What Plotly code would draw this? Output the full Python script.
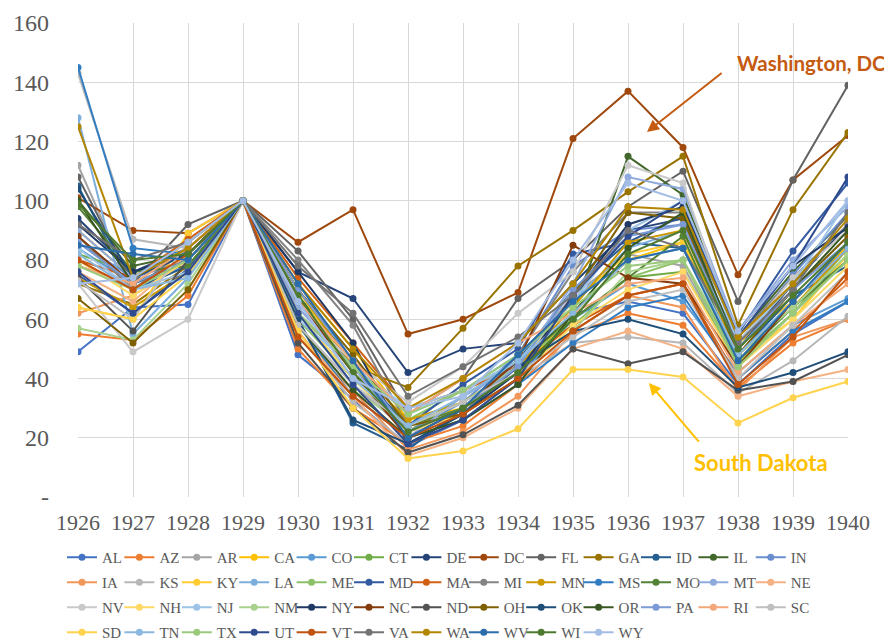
import plotly.graph_objects as go

years = list(range(1926, 1941))

states = ["AL", "AZ", "AR", "CA", "CO", "CT", "DE", "DC", "FL", "GA", "ID", "IL", "IN",
          "IA", "KS", "KY", "LA", "ME", "MD", "MA", "MI", "MN", "MS", "MO", "MT", "NE",
          "NV", "NH", "NJ", "NM", "NY", "NC", "ND", "OH", "OK", "OR", "PA", "RI", "SC",
          "SD", "TN", "TX", "UT", "VT", "VA", "WA", "WV", "WI", "WY"]

colors = ["#4472C4", "#ED7D31", "#A5A5A5", "#FFC000", "#5B9BD5", "#70AD47", "#264478",
          "#9E480E", "#636363", "#997300", "#255E91", "#43682B", "#698ED0", "#F1975A",
          "#B7B7B7", "#FFCD33", "#7CAFDD", "#8CC168", "#335AA1", "#D26012", "#848484",
          "#CC9A00", "#327DC2", "#548235", "#8FAADC", "#F4B183", "#C9C9C9", "#FFD966",
          "#9DC3E6", "#A9D18E", "#203864", "#843C0C", "#525252", "#7F6000", "#1F4E79",
          "#385723", "#7C9BD6", "#F4A87A", "#BFBFBF", "#FFD34D", "#8AB8E0", "#9BC97C",
          "#2F4B8F", "#C0530F", "#737373", "#B38600", "#2A6DAA", "#4E7A30", "#A4BDE5"]

AL = [49, 64, 65, 100, 48, 33, 17, 26, 40, 62, 66, 62, 38, 55, 66]
AZ = [55, 53, 68, 100, 50, 30, 18, 24, 38, 55, 62, 58, 37, 52, 60]
AR = [112, 70, 80, 100, 58, 38, 22, 30, 45, 68, 82, 78, 45, 62, 80]
CA = [90, 74, 86, 100, 72, 50, 26, 30, 42, 62, 80, 86, 52, 66, 85]
CO = [84, 72, 78, 100, 66, 42, 22, 28, 40, 60, 72, 66, 42, 58, 67]
CT = [82, 76, 82, 100, 62, 40, 22, 34, 46, 60, 74, 76, 45, 62, 82]
DE = [94, 76, 84, 100, 76, 67, 42, 50, 52, 72, 90, 94, 50, 72, 92]
DC = [101, 90, 89, 100, 86, 97, 55, 60, 69, 121, 137, 118, 75, 107, 122]
FL = [108, 72, 92, 100, 83, 60, 28, 40, 67, 80, 98, 110, 66, 107, 139]
GA = [72, 65, 78, 100, 67, 44, 37, 57, 78, 90, 103, 115, 58, 97, 123]
ID = [105, 70, 78, 100, 60, 25, 16, 30, 46, 70, 86, 84, 48, 68, 78]
IL = [100, 78, 82, 100, 68, 46, 22, 30, 44, 62, 115, 102, 54, 76, 95]
IN = [86, 74, 80, 100, 64, 44, 22, 32, 48, 78, 90, 92, 52, 75, 96]
IA = [62, 68, 80, 100, 54, 36, 16, 22, 34, 56, 68, 64, 36, 54, 60]
KS = [143, 87, 84, 100, 56, 32, 18, 26, 40, 52, 54, 52, 35, 46, 61]
KY = [64, 60, 89, 100, 70, 42, 24, 30, 44, 66, 82, 86, 46, 60, 82]
LA = [128, 55, 74, 100, 66, 46, 28, 36, 48, 66, 84, 90, 50, 70, 88]
ME = [78, 72, 80, 100, 60, 40, 26, 36, 46, 58, 74, 80, 46, 62, 84]
MD = [75, 62, 77, 100, 62, 44, 24, 38, 50, 82, 86, 95, 55, 83, 106]
MA = [80, 74, 87, 100, 74, 52, 30, 36, 44, 58, 68, 72, 40, 56, 74]
MI = [88, 70, 84, 100, 80, 58, 24, 28, 48, 76, 96, 96, 54, 74, 92]
MN = [74, 64, 76, 100, 70, 44, 26, 32, 44, 64, 86, 90, 48, 64, 84]
MS = [145, 84, 82, 100, 58, 34, 20, 26, 38, 52, 64, 68, 40, 56, 66]
MO = [98, 76, 78, 100, 66, 42, 24, 30, 42, 60, 74, 88, 46, 64, 80]
MT = [90, 74, 84, 100, 64, 44, 20, 34, 44, 72, 108, 104, 56, 80, 98]
NE = [76, 66, 82, 100, 56, 34, 14, 20, 30, 50, 56, 50, 34, 39, 43]
NV = [72, 49, 60, 100, 62, 46, 32, 44, 62, 76, 112, 106, 52, 74, 90]
NH = [80, 68, 80, 100, 62, 40, 22, 28, 40, 58, 70, 76, 44, 60, 78]
NJ = [84, 70, 76, 100, 60, 44, 30, 36, 46, 66, 90, 100, 52, 72, 100]
NM = [57, 53, 72, 100, 58, 36, 24, 32, 44, 56, 76, 80, 48, 64, 82]
NY = [92, 76, 82, 100, 76, 52, 18, 28, 42, 68, 92, 98, 56, 78, 91]
NC = [88, 72, 80, 100, 66, 42, 20, 30, 46, 85, 74, 72, 44, 66, 84]
ND = [74, 56, 80, 100, 52, 30, 15, 21, 31, 50, 45, 49, 36, 39, 48]
OH = [67, 52, 70, 100, 70, 48, 24, 28, 40, 68, 96, 94, 48, 70, 88]
OK = [104, 74, 82, 100, 60, 26, 18, 28, 44, 56, 60, 55, 37, 42, 49]
OR = [100, 72, 80, 100, 58, 36, 20, 26, 38, 62, 84, 96, 50, 70, 90]
PA = [86, 72, 80, 100, 70, 46, 22, 30, 44, 70, 88, 92, 50, 70, 86]
RI = [78, 72, 84, 100, 66, 46, 28, 40, 52, 62, 72, 74, 42, 58, 72]
SC = [73, 60, 86, 100, 58, 38, 24, 32, 42, 54, 66, 70, 40, 58, 76]
SD = [64, 60, 75, 100, 56, 30, 13, 15.5, 23, 43, 43, 40.5, 25, 33.5, 39]
TN = [82, 70, 74, 100, 66, 40, 24, 34, 46, 62, 80, 84, 48, 66, 84]
TX = [78, 70, 80, 100, 62, 44, 28, 36, 48, 64, 78, 80, 44, 62, 80]
UT = [76, 62, 76, 100, 62, 38, 18, 26, 40, 68, 88, 100, 54, 78, 108]
VT = [80, 70, 82, 100, 54, 34, 20, 28, 40, 56, 68, 72, 38, 54, 76]
VA = [92, 80, 86, 100, 78, 62, 34, 44, 54, 68, 90, 84, 52, 70, 96]
WA = [125, 74, 84, 100, 72, 50, 30, 40, 52, 72, 98, 97, 54, 72, 94]
WV = [85, 82, 80, 100, 72, 46, 20, 30, 48, 66, 80, 84, 46, 66, 86]
WI = [99, 80, 82, 100, 68, 42, 22, 30, 42, 60, 82, 90, 50, 68, 86]
WY = [72, 74, 86, 100, 66, 40, 30, 34, 52, 80, 106, 100, 56, 78, 100]

series = [AL, AZ, AR, CA, CO, CT, DE, DC, FL, GA, ID, IL, IN, IA, KS, KY, LA, ME, MD,
          MA, MI, MN, MS, MO, MT, NE, NV, NH, NJ, NM, NY, NC, ND, OH, OK, OR, PA, RI,
          SC, SD, TN, TX, UT, VT, VA, WA, WV, WI, WY]

y_ticks = [0, 20, 40, 60, 80, 100, 120, 140, 160]
y_labels = ["-", "20", "40", "60", "80", "100", "120", "140", "160"]

legend_ids = ["legend", "legend2", "legend3", "legend4"]
per_row = 13

fig = go.Figure()
for i, (name, vals, col) in enumerate(zip(states, series, colors)):
    fig.add_trace(go.Scatter(
        x=years, y=vals, name=name, mode="lines+markers",
        line=dict(color=col, width=2),
        marker=dict(color=col, size=7),
        legend=legend_ids[i // per_row],
    ))

# empty spacer entries so the last real entry of each legend row is not clipped
for lid in legend_ids:
    fig.add_trace(go.Scatter(
        x=[None], y=[None], name=" ", mode="lines",
        line=dict(color="rgba(0,0,0,0)", width=0),
        legend=lid, hoverinfo="skip",
    ))

serif = "Liberation Serif"
legend_style = dict(orientation="h", x=-0.0208, xanchor="left", yanchor="top",
                    font=dict(family=serif, size=15, color="#595959"),
                    entrywidth=12.4, entrywidthmode="pixels", itemwidth=30,
                    bgcolor="rgba(0,0,0,0)", itemclick=False, itemdoubleclick=False)
row_y = [-0.0928, -0.1456, -0.1983, -0.2511]

fig.update_layout(
    width=884, height=636,
    margin=dict(l=70, r=44, t=15, b=147, autoexpand=False),
    plot_bgcolor="white", paper_bgcolor="white",
    showlegend=True,
    legend=dict(y=row_y[0], **legend_style),
    legend2=dict(y=row_y[1], **legend_style),
    legend3=dict(y=row_y[2], **legend_style),
    legend4=dict(y=row_y[3], **legend_style),
    xaxis=dict(range=[1926, 1940], tickmode="array", tickvals=years,
               ticktext=[str(y) for y in years],
               showgrid=True, gridcolor="#D9D9D9", gridwidth=1,
               showline=False, zeroline=False, ticks="", ticklabelstandoff=10,
               tickfont=dict(family=serif, size=22, color="#595959")),
    yaxis=dict(range=[0, 160], tickmode="array", tickvals=y_ticks, ticktext=y_labels,
               showgrid=True, gridcolor="#D9D9D9", gridwidth=1,
               showline=False, zeroline=False, ticks="", ticklabelstandoff=28,
               tickfont=dict(family=serif, size=24, color="#595959")),
)

fig.add_annotation(x=1939.33, y=146.5, xref="x", yref="y", text="<b>Washington, DC</b>",
                   showarrow=False, font=dict(family="Lato", size=20.5, color="#C55A11"))
fig.add_annotation(x=1938.42, y=11.8, xref="x", yref="y", text="<b>South Dakota</b>",
                   showarrow=False, font=dict(family="Lato", size=22, color="#FFC000"))
fig.add_annotation(x=1936.345, y=123.2, xref="x", yref="y", ax=1937.73, ay=143.5,
                   axref="x", ayref="y", text="", showarrow=True, arrowhead=2,
                   arrowsize=1.2, arrowwidth=2, arrowcolor="#C55A11")
fig.add_annotation(x=1936.38, y=38.5, xref="x", yref="y", ax=1937.31, ay=18.2,
                   axref="x", ayref="y", text="", showarrow=True, arrowhead=2,
                   arrowsize=1.2, arrowwidth=2, arrowcolor="#FFC000")

fig.write_html("out.html")
